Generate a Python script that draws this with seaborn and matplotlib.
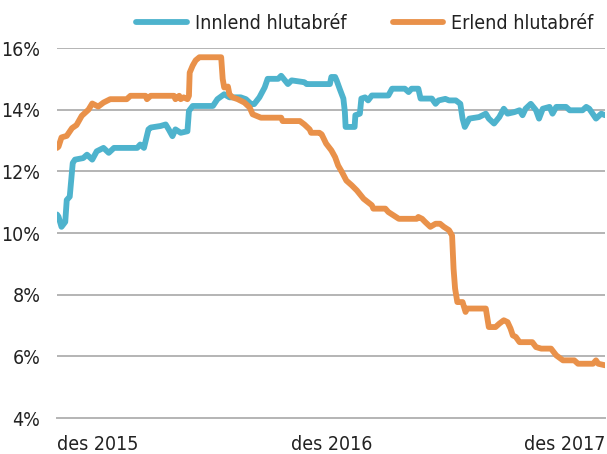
#!/usr/bin/env python
# coding: utf-8
"""Innlend og erlend hlutabréf sem hlutfall, des 2015 - des 2017."""

import numpy as np
import pandas as pd
import seaborn as sns
from matplotlib import pyplot as plt
from matplotlib import font_manager

start = pd.Timestamp("2015-12-01")
end = pd.Timestamp("2017-12-01")

# days after 1 Dec 2015 and share in %
innlend_days = [0, 2, 6, 11, 13, 17, 21, 24, 35, 40, 47, 53, 62, 69, 76, 107,
                111, 116, 122, 125, 138, 145, 149, 154, 158, 165, 174, 176,
                181, 208, 214, 223, 230, 245, 252, 259, 263, 270, 277, 281,
                295, 299, 304, 308, 313, 330, 333, 364, 366, 371, 373, 377,
                382, 384, 385, 397, 398, 404, 406, 411, 415, 420, 442, 447,
                464, 469, 473, 482, 485, 500, 505, 509, 518, 523, 532, 538,
                541, 544, 550, 563, 572, 576, 583, 590, 596, 601, 610, 617,
                621, 625, 632, 639, 643, 648, 657, 661, 666, 679, 684, 701,
                706, 710, 719, 726, 731]
innlend = [10.6, 10.53, 10.2, 10.36, 11.07, 11.18, 12.27, 12.38, 12.43,
           12.54, 12.38, 12.65, 12.76, 12.6, 12.76, 12.76, 12.87, 12.76,
           13.36, 13.42, 13.47, 13.52, 13.36, 13.14, 13.36, 13.25, 13.3,
           13.96, 14.12, 14.12, 14.34, 14.5, 14.4, 14.4, 14.34, 14.18, 14.18,
           14.4, 14.72, 15.0, 15.0, 15.1, 14.95, 14.83, 14.95, 14.89, 14.83,
           14.83, 15.06, 15.06, 14.95, 14.68, 14.36, 13.92, 13.44, 13.44,
           13.82, 13.87, 14.36, 14.4, 14.3, 14.46, 14.46, 14.68, 14.68, 14.57,
           14.68, 14.68, 14.36, 14.36, 14.19, 14.3, 14.35, 14.3, 14.3, 14.19,
           13.71, 13.44, 13.71, 13.76, 13.87, 13.71, 13.55, 13.76, 14.03,
           13.87, 13.92, 13.98, 13.82, 14.03, 14.19, 13.98, 13.71, 14.03,
           14.09, 13.87, 14.09, 14.09, 13.98, 13.98, 14.09, 14.03, 13.71,
           13.87, 13.82]

erlend_days = [0, 2, 6, 13, 20, 26, 33, 42, 47, 55, 62, 71, 93, 98, 118, 120,
               125, 156, 158, 163, 165, 169, 174, 176, 177, 181, 185, 190,
               219, 221, 223, 228, 230, 234, 241, 250, 257, 261, 266, 272,
               299, 301, 324, 330, 337, 339, 350, 353, 359, 366, 371, 375,
               380, 386, 393, 400, 409, 420, 422, 438, 442, 449, 456, 480,
               482, 487, 491, 498, 505, 511, 516, 523, 527, 529, 531, 534,
               541, 545, 547, 572, 576, 585, 590, 596, 601, 605, 608, 612,
               617, 634, 639, 646, 659, 666, 675, 690, 695, 715, 719, 722,
               731]
erlend = [12.76, 12.8, 13.1, 13.15, 13.4, 13.5, 13.8, 14.0, 14.2, 14.1,
          14.23, 14.34, 14.34, 14.45, 14.45, 14.34, 14.45, 14.45, 14.34,
          14.45, 14.34, 14.4, 14.34, 14.45, 15.2, 15.43, 15.6, 15.7, 15.7,
          15.0, 14.72, 14.75, 14.5, 14.4, 14.34, 14.23, 14.07, 13.85, 13.8,
          13.74, 13.74, 13.63, 13.63, 13.52, 13.36, 13.25, 13.25, 13.2, 12.9,
          12.68, 12.46, 12.19, 11.98, 11.7, 11.55, 11.38, 11.11, 10.9, 10.79,
          10.79, 10.68, 10.57, 10.46, 10.46, 10.52, 10.46, 10.36, 10.2, 10.3,
          10.3, 10.2, 10.09, 9.92, 8.84, 8.2, 7.76, 7.76, 7.44, 7.55, 7.55,
          6.95, 6.95, 7.06, 7.17, 7.11, 6.9, 6.68, 6.63, 6.46, 6.46, 6.3,
          6.25, 6.25, 6.03, 5.87, 5.87, 5.76, 5.76, 5.87, 5.76, 5.71]

series_names = ["Innlend hlutabréf", "Erlend hlutabréf"]
colors = ["#4eb3cd", "#e9914a"]
y_ticks = [4, 6, 8, 10, 12, 14, 16]
x_ticks = [start, pd.Timestamp("2016-12-01"), end]
x_labels = ["des 2015", "des 2016", "des 2017"]

frames = []
for name, days, vals in [(series_names[0], innlend_days, innlend),
                         (series_names[1], erlend_days, erlend)]:
    frames.append(pd.DataFrame({
        "dags": start + pd.to_timedelta(np.array(days), unit="D"),
        "hlutfall": vals,
        "flokkur": name}))
data = pd.concat(frames, ignore_index=True)

sns.set_theme(style="white")


def stretch_num(s):
    if isinstance(s, str):
        return font_manager.stretch_dict.get(s, 500)
    return s


# narrowest upright regular face that is installed
faces = [f for f in font_manager.fontManager.ttflist
         if f.style == "normal" and f.weight in (400, "normal", "regular")
         and "CJK" not in f.name and "Mono" not in f.name]
faces.sort(key=lambda f: stretch_num(f.stretch))
narrow = faces[0] if faces and stretch_num(faces[0].stretch) < 500 else None
if narrow is not None:
    plt.rcParams["font.family"] = [narrow.name, "DejaVu Sans"]
    plt.rcParams["font.stretch"] = stretch_num(narrow.stretch)
    fsize = 14
else:
    plt.rcParams["font.family"] = ["DejaVu Sans"]
    fsize = 12.5

fig = plt.figure(figsize=(6.07, 4.54), dpi=100)
ax = fig.add_axes([57 / 607, 1 - 418 / 454, 548 / 607, 370 / 454])

sns.lineplot(data=data, x="dags", y="hlutfall", hue="flokkur",
             palette=dict(zip(series_names, colors)), linewidth=4.2,
             estimator=None, sort=False, ax=ax, legend=False,
             solid_capstyle="round", solid_joinstyle="round", zorder=3)

ax.set_xlim(start, end)
ax.set_ylim(4, 16)
ax.set_yticks(y_ticks)
ax.set_yticklabels([f"{t}%" for t in y_ticks])
for t in y_ticks[1:]:
    ax.axhline(t, color="#b4b4b4", linewidth=1.4, zorder=1)
ax.set_xticks(x_ticks)
ax.set_xticklabels(x_labels)
for lab, ha in zip(ax.get_xticklabels(), ["left", "center", "right"]):
    lab.set_horizontalalignment(ha)
ax.set_xlabel("")
ax.set_ylabel("")

for side in ["left", "right", "top"]:
    ax.spines[side].set_visible(False)
ax.spines["bottom"].set_color("#b4b4b4")
ax.spines["bottom"].set_linewidth(1.4)
ax.tick_params(axis="x", direction="in", length=10, width=1.4,
               color="#b4b4b4", pad=12, labelsize=fsize, labelcolor="#222222")
ax.tick_params(axis="y", length=0, pad=12, labelsize=fsize,
               labelcolor="#222222")

handles = [plt.Line2D([], [], color=c, linewidth=4.2, solid_capstyle="round")
           for c in colors]
fig.legend(handles, series_names, loc="upper right",
           bbox_to_anchor=(1.0, 1.0), ncol=2, frameon=False, fontsize=fsize,
           handlelength=2.6, handletextpad=0.4, columnspacing=2.4,
           labelcolor="#222222", borderaxespad=0.3)

fig.savefig("out.png", dpi=100)
plt.close()
